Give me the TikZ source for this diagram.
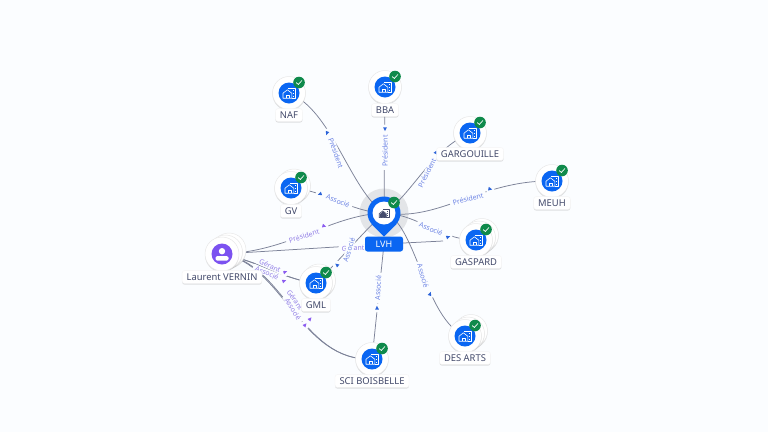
\documentclass[tikz,border=0pt]{standalone}
\usepackage{fontspec}
\setmainfont{Noto Sans}
\usetikzlibrary{shadows,backgrounds}
\definecolor{bgc}{HTML}{FBFDFF}
\definecolor{brand}{HTML}{0A66F2}
\definecolor{okgreen}{HTML}{0F8A4B}
\definecolor{linec}{HTML}{7C8298}
\definecolor{txt}{HTML}{434A6B}
\definecolor{bluetxt}{HTML}{6C83E4}
\definecolor{purtxt}{HTML}{927FE6}
\definecolor{bluemk}{HTML}{2B63D9}
\definecolor{purmk}{HTML}{8B5CF0}
\definecolor{person}{HTML}{7C52F0}
\definecolor{halo}{HTML}{E3E5E8}
\tikzset{
  softshadow/.style={drop shadow={opacity=.22,shadow xshift=0pt,shadow yshift=-1.2pt,fill=black!55}},
  disc/.style={circle,fill=white,draw=black!9,line width=.5pt,minimum size=#1,inner sep=0pt,softshadow},
  cardlabel/.style={fill=white,draw=black!4,line width=.4pt,rounded corners=2.5pt,inner xsep=4.5pt,inner ysep=3pt,text=txt,font=\fontsize{9.4}{10}\selectfont,softshadow},
  edgelabel/.style={fill=bgc,inner xsep=3pt,inner ysep=.6pt,font=\fontsize{7}{8}\selectfont},
  conn/.style={linec,line width=.75pt},
}
\newcommand{\houseicon}[3]{%
  \begin{scope}[shift={(#1,#2)},#3,line join=round]
    \draw (-6,5.2)--(-6,.2)--(-1.6,-3.2)--(2.8,.2)--(2.8,5.2)--cycle;
    \draw (-3.2,5.2)--(-3.2,2)--(0,2)--(0,5.2);
    \draw (-.8,-5)--(6,-5)--(6,5.2)--(2.8,5.2);
    \draw (4.2,-2.4)--(4.9,-2.4) (4.2,.2)--(4.9,.2) (4.2,2.8)--(4.9,2.8);
  \end{scope}}
\newcommand{\badge}[2]{%
  \fill[okgreen] (#1,#2) circle (5.8);
  \draw[white,line width=.7pt,line cap=round,line join=round] (#1-2.6,#2+.2)--(#1-.7,#2+2)--(#1+2.8,#2-1.9);}
% name, x, y, label y, text, back discs (0-2)
\newcommand{\entity}[6]{%
  \ifnum#6>1 \node[disc=33pt] (#1b2) at (#2+6,#3-5) {};\fi
  \ifnum#6>0 \node[disc=33pt] (#1b1) at (#2+3,#3-2.5) {};\fi
  \node[disc=33pt] (#1) at (#2,#3) {};
  \fill[brand] (#2,#3) circle (10.5);
  \houseicon{#2}{#3}{draw=white,line width=.6pt}
  \badge{#2+10}{#3-10.5}
  \node[cardlabel] (#1t) at (#2,#4) {#5};}
\newcommand{\mk}[4]{\fill[bgc] (#1,#2) circle (4.5);\fill[#4,shift={(#1,#2)},rotate=#3] (2.2,0)--(-1.6,1.9)--(-1.6,-1.9)--cycle;}
\newcommand{\elab}[6]{\node[edgelabel,text=#6,rotate=#4] (#1) at (#2,#3) {#5};}
\begin{document}
\begin{tikzpicture}[x=1pt,y=-1pt]
\useasboundingbox (0,0) rectangle (768,432);

% markers
\mk{327}{133}{-110}{bluemk}
\mk{385}{129}{-90}{bluemk}
\mk{436}{153}{-55}{bluemk}
\mk{490}{189}{-12}{bluemk}
\mk{320}{194}{200}{bluemk}
\mk{324}{226}{-15}{purmk}
\mk{448}{237}{20}{bluemk}
\mk{430}{294}{70}{bluemk}
\mk{377}{308}{92}{bluemk}
\mk{337}{265}{140}{bluemk}
\mk{285}{272}{20}{purmk}
\mk{284}{281}{20}{purmk}
\mk{310}{319}{50}{purmk}
\mk{305}{325}{50}{purmk}

% edge labels
\elab{lnaf}{336}{153}{-70}{Président}{bluetxt}
\elab{lbba}{385}{151}{90}{Président}{bluetxt}
\elab{lgar}{427}{173}{63}{Président}{bluetxt}
\elab{lmeuh}{468}{199}{15}{Président}{bluetxt}
\elab{lgv}{338}{201}{-22}{Associé}{bluetxt}
\elab{lgas}{431}{229}{-22}{Associé}{bluetxt}
\elab{ldes}{423}{276}{-74}{Associé}{bluetxt}
\elab{lsci}{378}{288}{87}{Associé}{bluetxt}
\elab{lpres}{304}{236}{17}{Président}{purtxt}
\elab{lger}{353}{248}{2}{Gérant}{purtxt}
\elab{lgml}{349}{250}{72}{Associé}{bluetxt}
\elab{lg1}{270}{266}{-24}{Gérant}{purtxt}
\elab{la1}{267}{273}{-24}{Associé}{purtxt}
\elab{lg2}{295}{300}{-55}{Gérant}{purtxt}
\elab{la2}{293}{309}{-58}{Associé}{purtxt}

% entities
\entity{naf}{289}{93}{115}{NAF}{0}
\entity{bba}{385}{87}{110}{BBA}{0}
\entity{gar}{470}{133}{154}{GARGOUILLE}{0}
\entity{meuh}{552}{181}{203}{MEUH}{0}
\entity{gv}{291}{188}{211}{GV}{1}
\entity{gas}{476}{240}{262}{GASPARD}{2}
\entity{des}{465}{336}{358}{DES ARTS}{2}
\entity{sci}{372}{359}{381}{SCI BOISBELLE}{0}
\entity{gml}{316}{283}{305}{GML}{1}

% person
\node[disc=34pt] (pb2) at (229,250) {};
\node[disc=34pt] (pb1) at (225.5,252) {};
\node[disc=34pt] (lau) at (222,254) {};
\fill[person] (222,254) circle (10.5);
\fill[white] (222,251.2) circle (3.2);
\fill[white,rounded corners=1.5pt] (215.5,260.5) rectangle (228.5,256.2);
\node[cardlabel] (laut) at (222,277) {Laurent VERNIN};

% LVH pin
\node[circle,fill=brand,minimum size=33pt,inner sep=0pt] (lvh) at (384,213) {};
\fill[brand,line join=round] (371.5,224)--(384,236.5)--(396.5,224)--cycle;
\fill[white] (384,213) circle (11.5);
\houseicon{384}{213.5}{draw=txt,line width=.6pt,scale=.8}
\fill[txt] (379.8,214.2)--(383,211.5)--(386.2,214.2)--(386.2,217.6)--(379.8,217.6)--cycle;
\badge{394}{202.5}
\node[fill=brand,rounded corners=2.5pt,text=white,minimum width=38pt,minimum height=15pt,inner sep=0pt,font=\fontsize{9}{10}\selectfont] (lvht) at (384,244) {LVH};
\coordinate (gasgap) at (443,241);
\coordinate (gasgapb) at (461,240.5);

\begin{pgfonlayer}{background}
\fill[bgc] (0,0) rectangle (768,432);
\fill[halo] (384,213) circle (24.5);
\draw[conn] (lvh.center) .. controls (350,190) and (332,110) .. (naf.center);
\draw[conn] (lvh.center) -- (bba.center);
\draw[conn] (lvh.center) .. controls (412,195) and (430,150) .. (gar.center);
\draw[conn] (lvh.center) .. controls (440,222) and (480,180) .. (meuh.center);
\draw[conn] (lvh.center) .. controls (350,212) and (325,190) .. (gv.center);
\draw[conn] (lvh.center) .. controls (420,215) and (440,240) .. (gas.center);
\draw[conn] (lvh.center) .. controls (415,220) and (425,320) .. (des.center);
\draw[conn] (lvht.center) -- (sci.center);
\draw[conn] (lvh.center) .. controls (365,230) and (340,260) .. (gml.center);
\draw[conn] (lau.center) .. controls (290,252) and (330,215) .. (lvh.center);
\draw[conn] (lau.center) -- (lvht.center);
\draw[conn] (lvht.center) -- (gasgap);
\draw[conn] (gasgapb) -- (gas.center);
\draw[conn] (lau.center) .. controls (262,262) and (285,280) .. (gml.center);
\draw[conn] (lau.center) .. controls (264,263) and (285,280) .. (gml.center);
\draw[conn] (lau.center) .. controls (285,262) and (300,362) .. (sci.center);
\draw[conn] (lau.center) .. controls (283,263) and (300,362) .. (sci.center);
\end{pgfonlayer}
\end{tikzpicture}
\end{document}
